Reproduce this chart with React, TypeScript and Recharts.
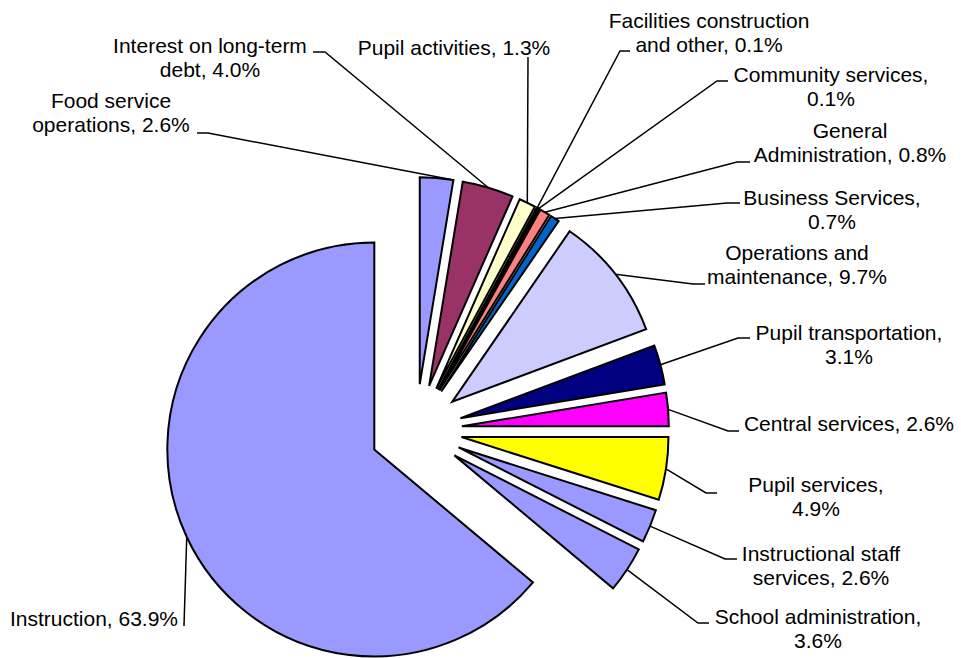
import React from 'react';
import { PieChart, Pie, Cell, Sector } from 'recharts';

// spending categories, counter-clockwise from 12 o'clock
const categories = [
  'Instruction',
  'School administration',
  'Instructional staff services',
  'Pupil services',
  'Central services',
  'Pupil transportation',
  'Operations and maintenance',
  'Business Services',
  'General Administration',
  'Community services',
  'Facilities construction and other',
  'Pupil activities',
  'Interest on long-term debt',
  'Food service operations',
];

const shares = [63.9, 3.6, 2.6, 4.9, 2.6, 3.1, 9.7, 0.7, 0.8, 0.1, 0.1, 1.3, 4.0, 2.6];

const sliceColors = [
  '#9999FF', '#9999FF', '#9999FF', '#FFFF00', '#FF00FF', '#000080', '#CCCCFF',
  '#0066CC', '#FF8080', '#660066', '#CCFFFF', '#FFFFCC', '#993366', '#9999FF',
];

// label placement: text centre x, first line y, words on line 1, leader elbow / end, attach tweak (deg)
const labelSpots = [
  { tx: 94, ty: 618, split: 9, ex: 184, ey: 626, fx: 184, fy: 626, attach: 0 },
  { tx: 818, ty: 616, split: 2, ex: 698, ey: 623, fx: 709, fy: 623, attach: 0 },
  { tx: 821, ty: 553, split: 2, ex: 725, ey: 559, fx: 737, fy: 559, attach: 0 },
  { tx: 816, ty: 484, split: 2, ex: 706, ey: 493, fx: 717, fy: 493, attach: 0 },
  { tx: 849, ty: 423, split: 9, ex: 728, ey: 431, fx: 739, fy: 431, attach: 0 },
  { tx: 849, ty: 332, split: 2, ex: 738, ey: 338, fx: 750, fy: 338, attach: 0 },
  { tx: 797, ty: 252, split: 2, ex: 693, ey: 284, fx: 705, fy: 284, attach: 0 },
  { tx: 832, ty: 197, split: 2, ex: 727, ey: 203, fx: 740, fy: 203, attach: 0 },
  { tx: 850, ty: 130, split: 1, ex: 737, ey: 162, fx: 750, fy: 162, attach: 0 },
  { tx: 831, ty: 74, split: 2, ex: 717, ey: 81, fx: 728, fy: 81, attach: 0 },
  { tx: 709, ty: 20, split: 2, ex: 620, ey: 51, fx: 630, fy: 51, attach: 0 },
  { tx: 454, ty: 47, split: 9, ex: 528, ey: 57, fx: 528, fy: 57, attach: 0 },
  { tx: 210, ty: 45, split: 3, ex: 325, ey: 52, fx: 313, fy: 52, attach: 0 },
  { tx: 111, ty: 100, split: 2, ex: 208, ey: 133, fx: 197, fy: 133, attach: -4 },
];

const data = categories.map((name, i) => ({ name, value: shares[i] }));

const RAD = Math.PI / 180;
const EXPLODE = 46;
const FONT = '"Liberation Sans", Arial, sans-serif';

const ExplodedSlice = (props: any) => {
  const { cx, cy, midAngle, innerRadius, outerRadius, startAngle, endAngle, fill } = props;
  const dx = EXPLODE * Math.cos(-midAngle * RAD);
  const dy = EXPLODE * Math.sin(-midAngle * RAD);
  return (
    <Sector
      cx={cx + dx}
      cy={cy + dy}
      innerRadius={innerRadius}
      outerRadius={outerRadius}
      startAngle={startAngle}
      endAngle={endAngle}
      fill={fill}
      stroke="#000"
      strokeWidth={2}
    />
  );
};

const renderLabel = (props: any) => {
  const { cx, cy, midAngle, outerRadius, index, value } = props;
  const spot = labelSpots[index];
  const ox = cx + EXPLODE * Math.cos(-midAngle * RAD);
  const oy = cy + EXPLODE * Math.sin(-midAngle * RAD);
  const a = -(midAngle + spot.attach) * RAD;
  const px = ox + outerRadius * Math.cos(a);
  const py = oy + outerRadius * Math.sin(a);
  const words = `${categories[index]}, ${Number(value).toFixed(1)}%`.split(' ');
  const lines = [words.slice(0, spot.split).join(' '), words.slice(spot.split).join(' ')].filter(Boolean);
  return (
    <g key={`lbl-${index}`}>
      <polyline
        points={`${px},${py} ${spot.ex},${spot.ey} ${spot.fx},${spot.fy}`}
        fill="none"
        stroke="#000"
        strokeWidth={1.5}
      />
      {lines.map((ln, k) => (
        <text
          key={k}
          x={spot.tx}
          y={spot.ty + k * 24}
          textAnchor="middle"
          dominantBaseline="central"
          fontFamily={FONT}
          fontSize={21}
          fill="#000"
        >
          {ln}
        </text>
      ))}
    </g>
  );
};

export default function App() {
  return (
    <div style={{ position: 'absolute', left: 0, top: 0, width: 961, height: 658, background: '#fff' }}>
      <PieChart width={961} height={658} margin={{ top: 0, right: 0, bottom: 0, left: 0 }}>
        <Pie
          data={data}
          dataKey="value"
          nameKey="name"
          cx={416}
          cy={430}
          outerRadius={207}
          startAngle={90}
          endAngle={450}
          stroke="#000"
          strokeWidth={2}
          shape={ExplodedSlice}
          activeShape={ExplodedSlice}
          inactiveShape={ExplodedSlice}
          label={renderLabel}
          labelLine={false}
          isAnimationActive={false}
        >
          {data.map((d, i) => (
            <Cell key={d.name} fill={sliceColors[i]} />
          ))}
        </Pie>
      </PieChart>
    </div>
  );
}
